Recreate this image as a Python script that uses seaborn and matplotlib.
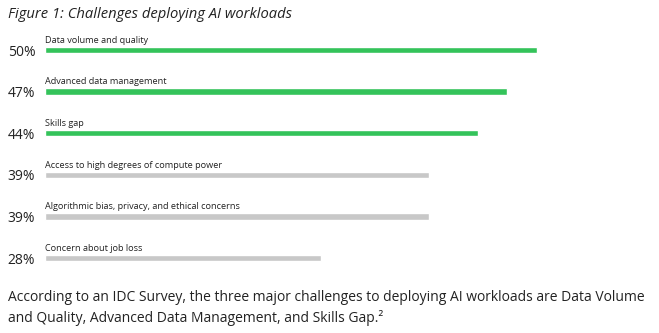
import matplotlib
matplotlib.use("Agg")
import matplotlib.pyplot as plt
import seaborn as sns
import pandas as pd

categories = [
    "Data volume and quality",
    "Advanced data management",
    "Skills gap",
    "Access to high degrees of compute power",
    "Algorithmic bias, privacy, and ethical concerns",
    "Concern about job loss",
]
values = [50, 47, 44, 39, 39, 28]
tick_labels = ["50%", "47%", "44%", "39%", "39%", "28%"]
highlight = [True, True, True, False, False, False]

title = "Figure 1: Challenges deploying AI workloads"
caption = ("According to an IDC Survey, the three major challenges to deploying AI workloads are Data Volume\n"
           "and Quality, Advanced Data Management, and Skills Gap.\u00b2")

sns.set_theme(style="white")
plt.rcParams['font.family'] = ['Open Sans', 'DejaVu Sans']

green = "#34c35a"
grey = "#c8c8c8"
text_color = "#222222"

df = pd.DataFrame({"category": categories, "value": values,
                   "group": ["top" if h else "other" for h in highlight]})

fig = plt.figure(figsize=(6.59, 3.33), dpi=100)
ax = fig.add_axes([45/659, (333-275)/333, 614/659, 245/333])

bar_w = 0.15
sns.barplot(data=df, x="value", y="category", hue="group",
            palette={"top": green, "other": grey}, orient="h",
            width=bar_w, dodge=False, legend=False, ax=ax, saturation=1)

ax.set_xlim(0, 614/9.84)
ax.set_ylim(5 + 17/41.6, -20/41.6)
for s in ax.spines.values():
    s.set_visible(False)
ax.set_xticks([])
ax.set_xlabel("")
ax.set_ylabel("")
ax.set_yticks(range(len(categories)))
ax.set_yticklabels(tick_labels, fontsize=10, color=text_color)
ax.tick_params(axis="y", length=0, pad=7)

for i, c in enumerate(categories):
    ax.text(0, i - bar_w/2 - 0.05, c, fontsize=6.6, color=text_color,
            ha="left", va="bottom")

fig.text(8/659, 1 - 15/333, title, fontsize=10.6, style="italic",
         color=text_color, ha="left", va="center")
fig.text(8/659, 1 - 308/333, caption, fontsize=10, color=text_color,
         ha="left", va="center", linespacing=1.45)

fig.savefig("out.png", dpi=100)
